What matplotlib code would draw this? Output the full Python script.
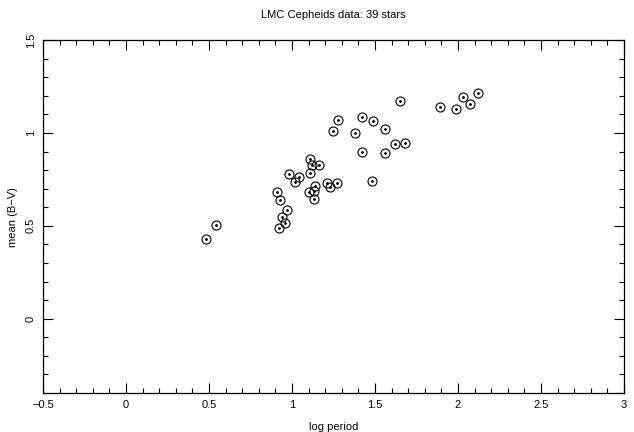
"""LMC Cepheids: mean (B-V) colour against log period, PGPLOT-style scatter."""

import matplotlib
matplotlib.use("Agg")
import matplotlib.pyplot as plt
from matplotlib.ticker import MultipleLocator

# values
log_period = [0.48, 0.54, 0.92, 0.91, 0.93, 0.94, 0.97, 0.96, 0.98, 1.02,
              1.04, 1.11, 1.12, 1.16, 1.11, 1.10, 1.13, 1.14, 1.13, 1.21,
              1.23, 1.27, 1.25, 1.28, 1.38, 1.42, 1.42, 1.49, 1.48, 1.56,
              1.56, 1.62, 1.68, 1.65, 1.89, 1.99, 2.03, 2.07, 2.12]
mean_bv = [0.43, 0.505, 0.49, 0.683, 0.637, 0.55, 0.584, 0.515, 0.78, 0.735,
           0.763, 0.86, 0.83, 0.826, 0.786, 0.685, 0.69, 0.715, 0.643, 0.73,
           0.71, 0.733, 1.01, 1.07, 1.0, 1.085, 0.898, 1.065, 0.742, 1.022,
           0.894, 0.942, 0.947, 1.172, 1.140, 1.132, 1.195, 1.155, 1.217]

TITLE = "LMC Cepheids data: 39 stars"
FONT = ["Liberation Sans", "DejaVu Sans"]

plt.rcParams["font.family"] = FONT
plt.rcParams["font.size"] = 8

fig = plt.figure(figsize=(6.34, 4.32), dpi=100)
ax = fig.add_axes([0.0678, 0.0903, 0.9164, 0.8167])

# PGPLOT symbol 9: open circle with a dot in the middle
ax.plot(log_period, mean_bv, 'o', ms=6.5, mfc='none', mec='black', mew=0.8)
ax.plot(log_period, mean_bv, '.', ms=2.0, color='black')

ax.set_xlim(-0.5, 3)
ax.set_ylim(-0.4, 1.5)
ax.xaxis.set_major_locator(MultipleLocator(0.5))
ax.xaxis.set_minor_locator(MultipleLocator(0.1))
ax.yaxis.set_major_locator(MultipleLocator(0.5))
ax.yaxis.set_minor_locator(MultipleLocator(0.1))
ax.xaxis.set_major_formatter(lambda v, pos: f"{v:g}".replace("-", "\u2212"))
ax.yaxis.set_major_formatter(lambda v, pos: f"{v:g}")

ax.tick_params(which='both', direction='in', top=True, right=True,
               width=0.8, colors='black', labelsize=8)
ax.tick_params(which='major', length=7, pad=5)
ax.tick_params(which='minor', length=3.5)
for lbl in ax.get_yticklabels():
    lbl.set_rotation(90)
    lbl.set_va('center')
for s in ax.spines.values():
    s.set_linewidth(0.9)

ax.set_title(TITLE, fontsize=8, pad=16)
ax.set_xlabel("log period", fontsize=8, labelpad=9)
ax.set_ylabel("mean (B\u2212V)", fontsize=8, labelpad=6)

fig.savefig("out.png", dpi=100)
